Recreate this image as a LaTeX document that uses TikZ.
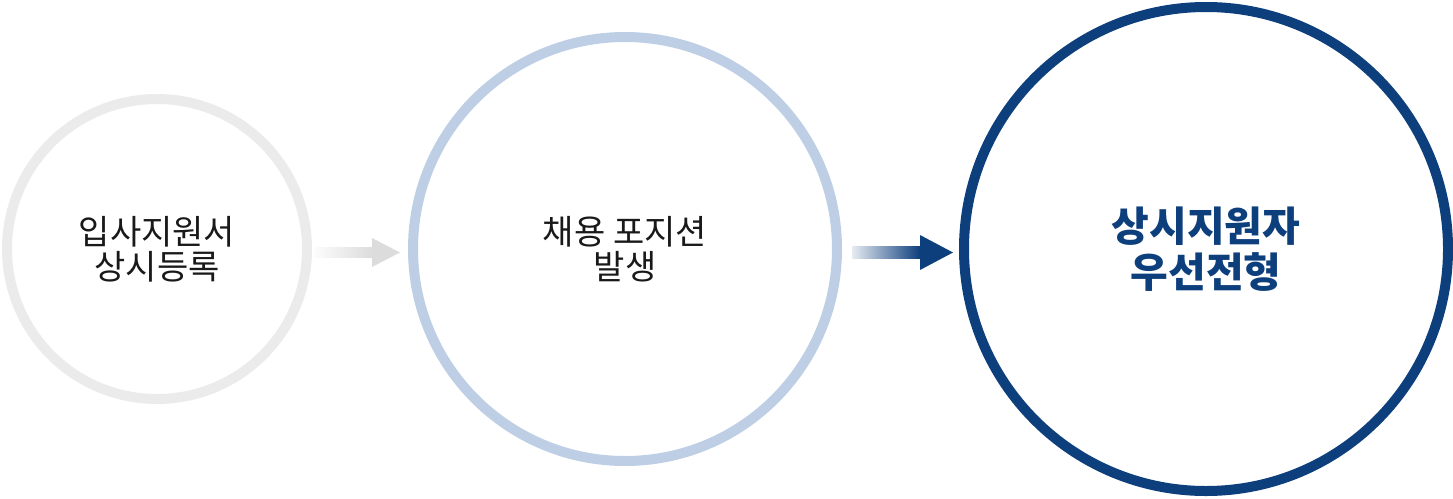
\documentclass[tikz,border=0pt]{standalone}
\usepackage{fontspec}
\setmainfont{Noto Sans CJK KR}
\usetikzlibrary{positioning}
\definecolor{ringgray}{HTML}{EBEBEB}
\definecolor{ringblue}{HTML}{BECFE5}
\definecolor{navy}{HTML}{0E3F7D}
\definecolor{arrowgray}{HTML}{DCDCDC}

\begin{document}
\begin{tikzpicture}[x=1pt,y=-1pt,
    ring/.style={circle,line width=10pt,align=center,inner sep=0pt},
    steptext/.style={font=\fontsize{34}{35}\selectfont,text=black!90}]
      \useasboundingbox (0,0) rectangle (1453,498);
      \node[ring,steptext,draw=ringgray,minimum size=300pt] (apply) at (157,249) {입사지원서\\상시등록};
      \node[ring,steptext,draw=ringblue,minimum size=424pt,right=96pt of apply] (opening) {채용 포지션\\발생};
      \node[ring,draw=navy,minimum size=484pt,right=117pt of opening,text=navy,
        font=\fontsize{41}{46}\selectfont\bfseries] (first) {상시지원자\\우선전형};
      \foreach \from/\to/\col/\gs/\ge/\len/\h/\w in
        {apply/opening/arrowgray/3/8/28/14.5/5, opening/first/navy/10/6/33/17.5/6}
      {
      \path ([xshift=\gs pt,yshift=-3.5pt]\from.east) coordinate (s)
            ([xshift=-\ge pt,yshift=-3.5pt]\to.west) coordinate (t);
      \shade[left color=\col!10,right color=\col] (s) ++(0,-\w) rectangle ([shift={(-\len,\w)}]t);
      \fill[\col] (t) -- ++(-\len,-\h) -- ++(0,2*\h) -- cycle;
      }
    \end{tikzpicture}
\end{document}
